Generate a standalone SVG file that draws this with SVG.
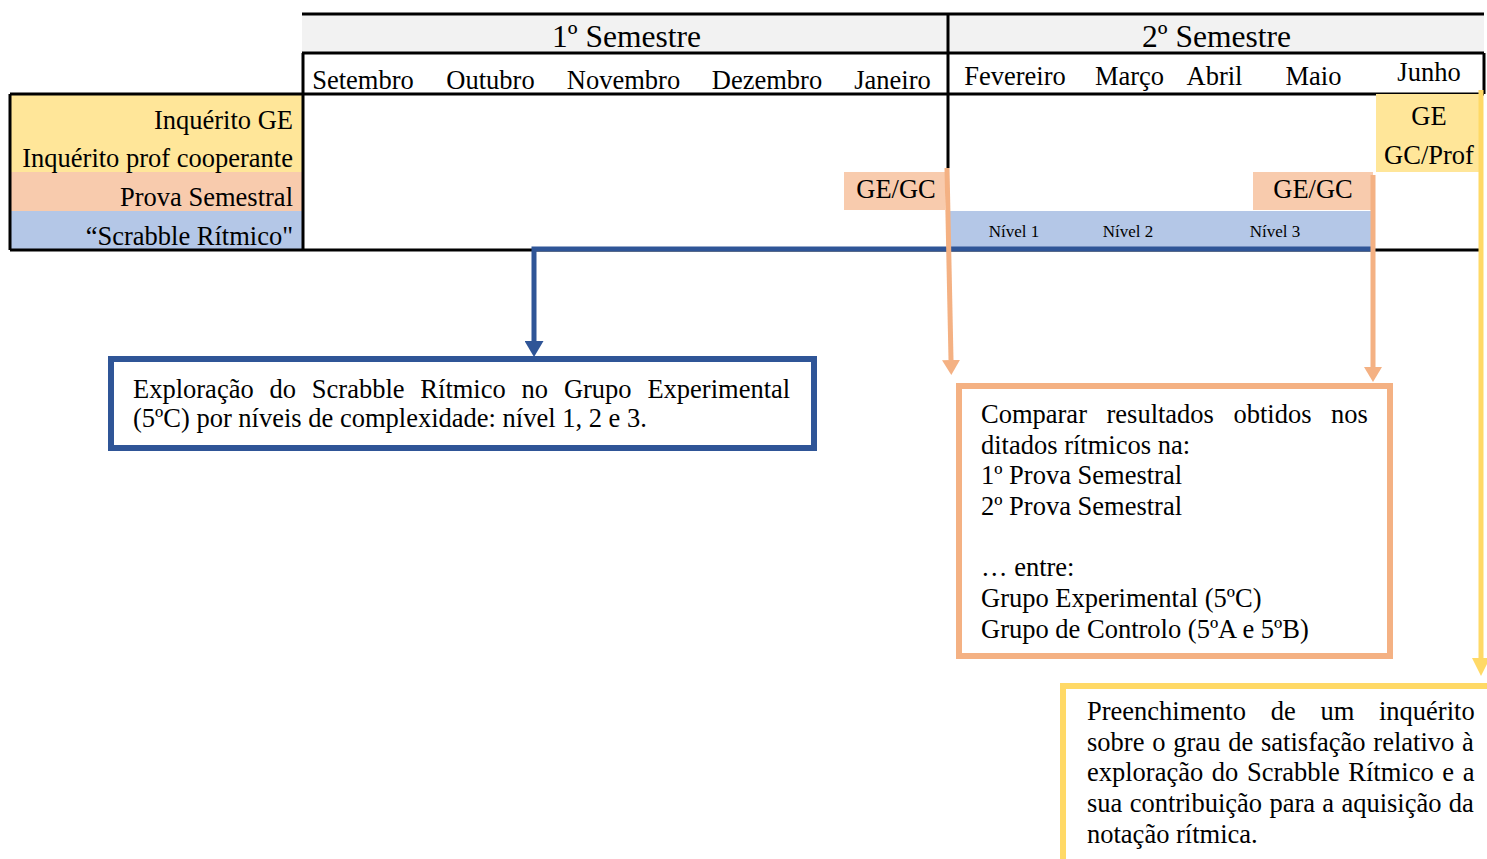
<svg xmlns="http://www.w3.org/2000/svg" width="1487" height="859" viewBox="0 0 1487 859">
<style>
text{font-family:"Liberation Serif","Times New Roman",serif;fill:#000}
.t{font-size:26.5px}
.hd{font-size:31.5px}
.sm{font-size:17px}
.c{text-anchor:middle}
.r{text-anchor:end}
.grid{stroke:#000;stroke-width:3;fill:none}
.yel{fill:#ffe699}
.ora{fill:#f8cbad}
.blu{fill:#b4c7e7}
.cb{fill:none;stroke:#2f5597;stroke-width:5}
.co{fill:none;stroke:#f4b183;stroke-width:5}
.cy{fill:none;stroke:#ffd966;stroke-width:5}
</style>
<defs>
<marker id="ab" markerUnits="userSpaceOnUse" markerWidth="16" markerHeight="19" refX="0" refY="9.5" orient="auto"><path d="M0,0 L16,9.5 L0,19 z" fill="#2f5597"/></marker>
<marker id="ao" markerUnits="userSpaceOnUse" markerWidth="15" markerHeight="18" refX="0" refY="9" orient="auto"><path d="M0,0 L15,9 L0,18 z" fill="#f4b183"/></marker>
<marker id="ay" markerUnits="userSpaceOnUse" markerWidth="18" markerHeight="18" refX="0" refY="9" orient="auto"><path d="M0,0 L18,9 L0,18 z" fill="#ffd966"/></marker>
</defs>
<rect width="1487" height="859" fill="#fff"/>
<g id="table">
<rect x="302" y="14" width="1182" height="39" fill="#f2f2f2"/>
<rect class="yel" x="10" y="94" width="293" height="78"/>
<rect class="ora" x="10" y="172" width="293" height="39"/>
<rect class="blu" x="10" y="211" width="293" height="39"/>
<path class="grid" d="M302,14 H1484 M302,53 H1484 M10,94 H1484 M303,53 V250 M948,14 V168 M1484,53 V94 M10,94 V250 M10,250 H1479"/>
<text class="hd c" x="626.5" y="47">1º Semestre</text>
<text class="hd c" x="1216.5" y="47">2º Semestre</text>
<text class="t c" x="363" y="89">Setembro</text>
<text class="t c" x="490.5" y="89">Outubro</text>
<text class="t c" x="623.5" y="89">Novembro</text>
<text class="t c" x="767" y="89">Dezembro</text>
<text class="t c" x="892.5" y="89">Janeiro</text>
<text class="t c" x="1015" y="85">Fevereiro</text>
<text class="t c" x="1129.5" y="85">Março</text>
<text class="t c" x="1214.5" y="85">Abril</text>
<text class="t c" x="1313.5" y="85">Maio</text>
<text class="t c" x="1429" y="81">Junho</text>
<text class="t r" x="293" y="129">Inquérito GE</text>
<text class="t r" x="293" y="167">Inquérito prof cooperante</text>
<text class="t r" x="293" y="206">Prova Semestral</text>
<text class="t r" x="293" y="245">“Scrabble Rítmico"</text>
</g>
<g id="cell-gegc-1">
<rect class="ora" x="844" y="172" width="101" height="38"/>
<text class="t c" x="896" y="198">GE/GC</text>
</g>
<g id="cell-gegc-2">
<rect class="ora" x="1253" y="172" width="120" height="38"/>
<text class="t c" x="1313" y="198">GE/GC</text>
</g>
<g id="cell-junho">
<rect class="yel" x="1376" y="94" width="105" height="78"/>
<text class="t c" x="1429" y="125">GE</text>
<text class="t c" x="1429" y="164">GC/Prof</text>
</g>
<g id="cell-niveis">
<rect class="blu" x="949" y="211" width="424" height="38"/>
<text class="sm c" x="1014" y="237">Nível 1</text>
<text class="sm c" x="1128" y="237">Nível 2</text>
<text class="sm c" x="1275" y="237">Nível 3</text>
</g>
<g id="connectors">
<path class="cb" d="M1374,249 H534 V341" marker-end="url(#ab)"/>
<path class="co" d="M947,168 L951,360" marker-end="url(#ao)"/>
<path class="co" d="M1373,175 V367" marker-end="url(#ao)"/>
<path class="cy" d="M1481,90 V658" marker-end="url(#ay)"/>
</g>
<g id="box-exploracao">
<rect x="111" y="359" width="703" height="89" fill="#fff" stroke="#2f5597" stroke-width="6"/>
<text class="t" x="133" y="398" word-spacing="9.2">Exploração do Scrabble Rítmico no Grupo Experimental</text>
<text class="t" x="133" y="427">(5ºC) por níveis de complexidade: nível 1, 2 e 3.</text>
</g>
<g id="box-comparar">
<rect x="959" y="386" width="431" height="270" fill="#fff" stroke="#f4b183" stroke-width="6"/>
<text class="t" x="981" y="423" word-spacing="12.9">Comparar resultados obtidos nos</text>
<text class="t" x="981" y="454">ditados rítmicos na:</text>
<text class="t" x="981" y="484">1º Prova Semestral</text>
<text class="t" x="981" y="515">2º Prova Semestral</text>
<text class="t" x="981" y="576">… entre:</text>
<text class="t" x="981" y="607">Grupo Experimental (5ºC)</text>
<text class="t" x="981" y="638">Grupo de Controlo (5ºA e 5ºB)</text>
</g>
<g id="box-inquerito">
<rect x="1063" y="686" width="500" height="300" fill="#fff" stroke="#ffd966" stroke-width="6"/>
<text class="t" x="1087" y="720" word-spacing="18.1">Preenchimento de um inquérito</text>
<text class="t" x="1087" y="751" word-spacing="1.2">sobre o grau de satisfação relativo à</text>
<text class="t" x="1087" y="781" word-spacing="2">exploração do Scrabble Rítmico e a</text>
<text class="t" x="1087" y="812" word-spacing="0.7">sua contribuição para a aquisição da</text>
<text class="t" x="1087" y="843">notação rítmica.</text>
</g>
</svg>
